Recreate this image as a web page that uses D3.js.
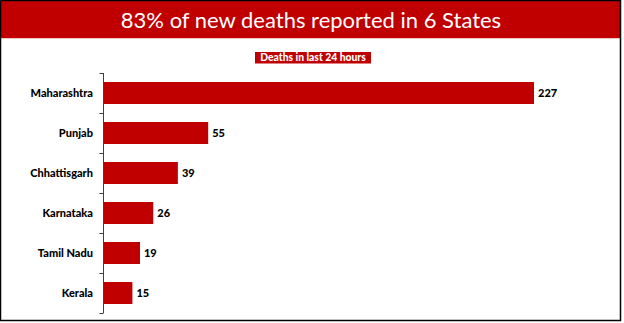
<!DOCTYPE html>
<html><head><meta charset="utf-8">
<script src="https://cdn.jsdelivr.net/npm/d3@7"></script>
<style>html,body{margin:0;padding:0;background:#fff;}svg{display:block;}</style>
</head><body>
<script>
const title = "83% of new deaths reported in 6 States";
const subtitle = "Deaths in last 24 hours";
const states = ["Maharashtra","Punjab","Chhattisgarh","Karnataka","Tamil Nadu","Kerala"];
const deaths = [227,55,39,26,19,15];

const W = 624, H = 323, red = "#c00000";
const svg = d3.select("body").append("svg").attr("width", W).attr("height", H);

svg.append("rect").attr("x",0).attr("y",0).attr("width",W).attr("height",H).attr("fill","#fff");
// title bar
svg.append("rect").attr("x",0).attr("y",0).attr("width",621).attr("height",38).attr("fill",red);
svg.append("line").attr("x1",0).attr("x2",621).attr("y1",38.5).attr("y2",38.5).attr("stroke","#f0c8c0").attr("stroke-width",1);
svg.append("text").attr("x",311).attr("y",28).attr("text-anchor","middle")
  .attr("fill","#fff").attr("font-family","Lato, 'Open Sans', sans-serif").attr("font-size",22)
  .text(title);

// subtitle box
const sub = svg.append("g");
sub.append("rect").attr("x",255).attr("y",52).attr("width",116).attr("height",11.5).attr("fill",red);
sub.append("text").attr("x",313).attr("y",61.2).attr("text-anchor","middle").attr("fill","#fff")
  .attr("font-family","Lato, sans-serif").attr("font-weight","900").attr("font-size",10.3).text(subtitle);

// scales
const y = d3.scaleBand().domain(states).range([73,313]).paddingInner(0.45).paddingOuter(0.225);
const x = d3.scaleLinear().domain([0,227]).range([104,534]);

// bars
svg.append("g").selectAll("rect").data(states).join("rect")
  .attr("x", x(0)).attr("y", d => y(d)).attr("width", (d,i) => x(deaths[i]) - x(0))
  .attr("height", y.bandwidth()).attr("fill", red);

// value labels
svg.append("g").selectAll("text").data(states).join("text")
  .attr("x", (d,i) => x(deaths[i]) + 4).attr("y", d => y(d) + y.bandwidth()/2 + 4)
  .attr("font-family","Lato, sans-serif").attr("font-weight","900").attr("font-size",11).attr("fill","#000")
  .text((d,i) => deaths[i]);

// axis
const axis = svg.append("g").attr("stroke","#404040").attr("stroke-width",1);
const [r0, r1] = y.range();
axis.append("line").attr("x1",x(0)-0.5).attr("x2",x(0)-0.5).attr("y1",r0).attr("y2",r1);
const bounds = states.map(d => y(d) - y.step()*y.paddingInner()/2).concat([r1]);
axis.selectAll("line.t").data(bounds).join("line").attr("class","t")
  .attr("x1",x(0)-4.5).attr("x2",x(0)-0.5).attr("y1",d=>Math.round(d)+0.5).attr("y2",d=>Math.round(d)+0.5);

// category labels
svg.append("g").selectAll("text").data(states).join("text")
  .attr("x", 93).attr("y", d => y(d) + y.bandwidth()/2 + 4).attr("text-anchor","end")
  .attr("font-family","Lato, sans-serif").attr("font-weight","900").attr("font-size",11).attr("fill","#000")
  .text(d => d);

// frame
svg.append("rect").attr("x",0.5).attr("y",0.5).attr("width",620).attr("height",320)
  .attr("fill","none").attr("stroke","#000").attr("stroke-width",1.5);
</script>
</body></html>
